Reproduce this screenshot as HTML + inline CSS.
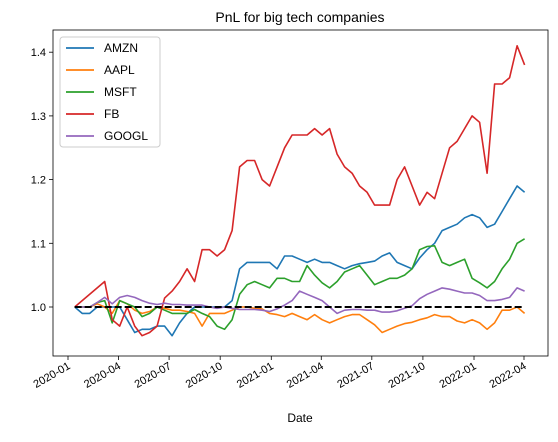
<!DOCTYPE html>
<html><head><meta charset="utf-8"><style>
body{margin:0;background:#fff}
svg text{font-family:"Liberation Sans","DejaVu Sans",sans-serif;fill:#000}
</style></head><body>
<svg id="chart" width="558" height="437" viewBox="0 0 558 437" xmlns="http://www.w3.org/2000/svg">
<text x="300" y="22" font-size="14" text-anchor="middle">PnL for big tech companies</text>
<g id="plot"></g>
<text x="300" y="422" font-size="12" text-anchor="middle">Date</text>
</svg>
<script>
const startDate = "2020-01-13";
const stepDays = 13.5;
const yTicks = [1.0, 1.1, 1.2, 1.3, 1.4];
const xTickLabels = ["2020-01","2020-04","2020-07","2020-10","2021-01","2021-04","2021-07","2021-10","2022-01","2022-04"];
const seriesNames = ["AMZN","AAPL","MSFT","FB","GOOGL"];
const seriesColors = ["#1f77b4","#ff7f0e","#2ca02c","#d62728","#9467bd"];
const amzn = [1.00,0.99,0.99,1.00,1.00,1.00,1.00,0.98,0.96,0.965,0.965,0.97,0.97,0.955,0.975,0.99,1.00,1.00,1.00,1.00,1.00,1.01,1.06,1.07,1.07,1.07,1.07,1.06,1.08,1.08,1.075,1.07,1.075,1.07,1.07,1.065,1.06,1.065,1.068,1.07,1.072,1.08,1.085,1.07,1.065,1.06,1.077,1.09,1.10,1.12,1.125,1.13,1.14,1.145,1.14,1.125,1.13,1.15,1.17,1.19,1.18];
const aapl = [1.00,1.00,1.00,1.005,1.00,0.99,1.01,1.005,0.995,0.99,0.993,1.00,0.998,0.995,0.995,0.993,0.99,0.97,0.99,0.99,0.99,0.995,1.00,1.00,0.998,0.997,0.99,0.988,0.985,0.99,0.985,0.98,0.988,0.98,0.975,0.98,0.985,0.988,0.988,0.98,0.972,0.96,0.965,0.97,0.974,0.976,0.98,0.983,0.988,0.985,0.985,0.978,0.975,0.98,0.975,0.965,0.975,0.995,0.995,1.00,0.99];
const msft = [1.00,1.00,1.00,1.007,1.01,0.975,1.01,1.005,1.00,0.985,0.99,1.00,0.995,0.99,0.99,0.99,0.996,0.99,0.985,0.97,0.965,0.98,1.02,1.035,1.04,1.035,1.03,1.045,1.045,1.04,1.04,1.065,1.05,1.038,1.03,1.04,1.055,1.06,1.065,1.05,1.035,1.04,1.045,1.045,1.05,1.06,1.09,1.095,1.096,1.07,1.065,1.07,1.075,1.045,1.038,1.03,1.04,1.06,1.075,1.10,1.107];
const fb = [1.00,1.01,1.02,1.03,1.04,0.98,0.97,1.00,0.97,0.955,0.96,0.97,1.014,1.025,1.04,1.06,1.04,1.09,1.09,1.08,1.09,1.12,1.22,1.23,1.23,1.20,1.19,1.22,1.25,1.27,1.27,1.27,1.28,1.27,1.28,1.24,1.22,1.21,1.19,1.18,1.16,1.16,1.16,1.20,1.22,1.19,1.16,1.18,1.17,1.21,1.25,1.26,1.28,1.30,1.29,1.21,1.35,1.35,1.36,1.41,1.38];
const googl = [1.00,1.00,1.00,1.007,1.015,1.005,1.015,1.018,1.015,1.01,1.006,1.004,1.006,1.004,1.004,1.003,1.003,1.003,1.00,0.998,1.00,0.998,0.996,0.996,0.996,0.995,0.993,0.997,1.003,1.01,1.025,1.02,1.015,1.01,1.00,0.99,0.995,0.996,0.996,0.995,0.995,0.992,0.992,0.994,0.998,1.002,1.013,1.02,1.025,1.03,1.028,1.025,1.022,1.022,1.018,1.01,1.01,1.012,1.015,1.03,1.025];
const baseline = 1.0;

const NS="http://www.w3.org/2000/svg";
const L=53,R=548,T=30,B=356;
const day0=Date.UTC(2020,0,1);
const pxPerDay=(524-68)/821;
function xScale(ms){return 68+(ms-day0)/86400000*pxPerDay;}
function yScale(v){return 307-(v-1.0)*637;}
function mk(tag,attrs,parent){const e=document.createElementNS(NS,tag);for(const k in attrs)e.setAttribute(k,attrs[k]);parent.appendChild(e);return e;}
const g=document.getElementById('plot');
const s0=Date.parse(startDate+"T00:00:00Z");
function dateAt(i){return s0+i*stepDays*86400000;}

// ticks
yTicks.forEach(v=>{
  const y=yScale(v);
  const t=mk('line',{x1:L-4,x2:L,y1:y,y2:y,stroke:'#000','stroke-width':0.8},g);
  
  
  const tx=mk('text',{x:L-7,y:y+4,'font-size':11,'text-anchor':'end'},g);
  tx.textContent=v.toFixed(1);
  
  
});
xTickLabels.forEach(lbl=>{
  const p=lbl.split('-');
  const x=xScale(Date.UTC(+p[0],+p[1]-1,1));
  const t=mk('line',{x1:x,x2:x,y1:B,y2:B+4,stroke:'#000','stroke-width':0.8},g);
  
  
  const tx=mk('text',{x:x+3,y:B+12,'font-size':11,'text-anchor':'end',transform:`rotate(-30 ${x+3} ${B+12})`},g);
  tx.textContent=lbl;
  
  
});

// series
const all=[amzn,aapl,msft,fb,googl];
all.forEach((arr,k)=>{
  const d=arr.map((v,i)=>(i?'L':'M')+xScale(dateAt(i)).toFixed(1)+','+yScale(v).toFixed(1)).join(' ');
  const p=mk('path',{d:d,fill:'none',stroke:seriesColors[k],'stroke-width':1.6,'stroke-linejoin':'round'},g);
  
  
});
const bl=mk('line',{x1:xScale(dateAt(0)),x2:xScale(dateAt(amzn.length-1)),y1:yScale(baseline),y2:yScale(baseline),stroke:'#000','stroke-width':2,'stroke-dasharray':'7,3'},g);



// frame
const fr=mk('rect',{x:L,y:T,width:R-L,height:B-T,fill:'none',stroke:'#000','stroke-width':0.8},g);



// legend
const lg=mk('g',{},g);


mk('rect',{x:60,y:37,width:100,height:110,rx:3,fill:'#fff','fill-opacity':0.8,stroke:'#ccc','stroke-width':1},lg);
seriesNames.forEach((n,k)=>{
  const y=48+k*22;
  const e=mk('g',{},lg);
  
  
  mk('line',{x1:66,x2:94,y1:y,y2:y,stroke:seriesColors[k],'stroke-width':1.8},e);
  const t=mk('text',{x:104,y:y+4,'font-size':12},e);
  t.textContent=n;
});
</script>
</body></html>
